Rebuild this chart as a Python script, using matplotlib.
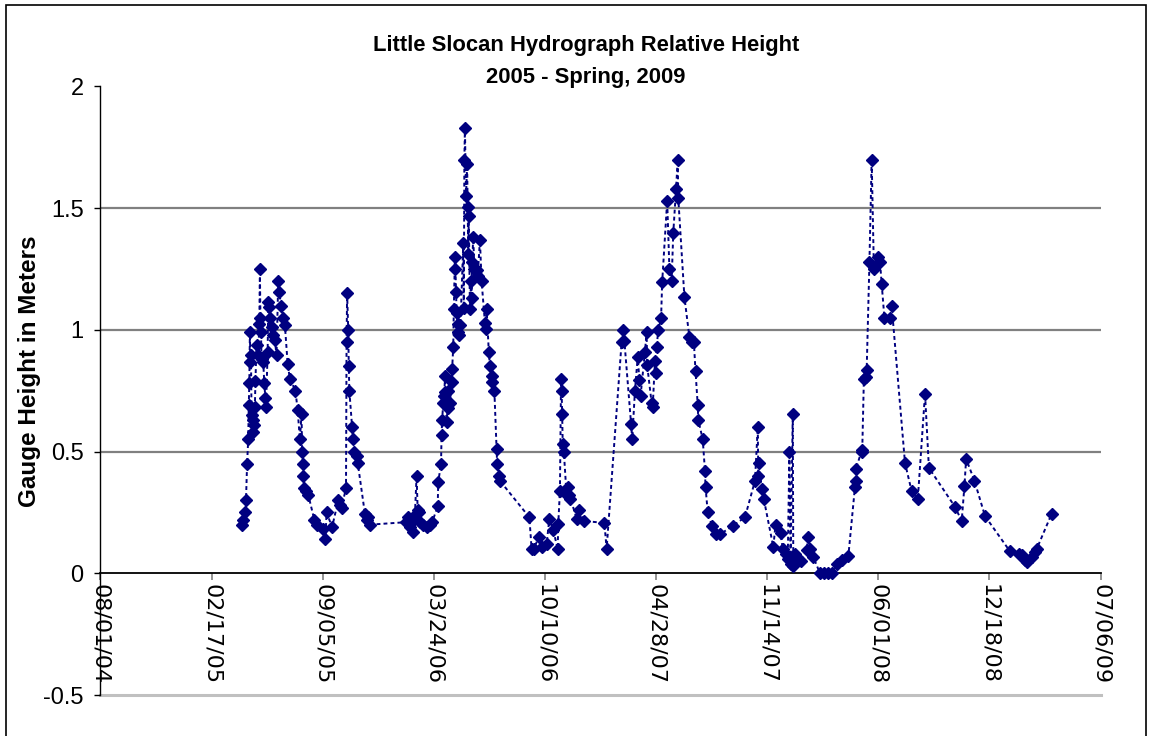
import matplotlib
matplotlib.use("Agg")
import matplotlib.pyplot as plt
import matplotlib.dates as mdates
from matplotlib.ticker import FixedLocator, FixedFormatter
from matplotlib.patches import Rectangle
from datetime import datetime

# Gauge readings, Little Slocan River (relative stage, metres)
obs_dates = [
    # 2005 freshet
    "2005-04-13", "2005-04-15", "2005-04-18", "2005-04-20", "2005-04-22", "2005-04-24",
    "2005-04-25", "2005-04-26", "2005-04-27", "2005-04-28", "2005-04-29", "2005-04-30",
    "2005-05-02", "2005-05-03", "2005-05-04", "2005-05-06", "2005-05-07", "2005-05-09",
    "2005-05-12", "2005-05-14", "2005-05-15", "2005-05-16", "2005-05-17", "2005-05-18",
    "2005-05-21", "2005-05-23", "2005-05-25", "2005-05-26", "2005-05-29", "2005-05-30",
    "2005-06-01", "2005-06-02", "2005-06-05", "2005-06-08", "2005-06-11", "2005-06-14",
    "2005-06-17", "2005-06-19", "2005-06-22", "2005-06-25", "2005-06-29", "2005-07-04",
    "2005-07-08", "2005-07-18", "2005-07-22", "2005-07-26", "2005-07-29", "2005-07-30",
    "2005-07-31", "2005-08-01", "2005-08-03", "2005-08-06", "2005-08-10", "2005-08-21",
    "2005-08-25", "2005-09-05", "2005-09-10", "2005-09-12", "2005-09-22", "2005-10-03",
    "2005-10-06", "2005-10-09", "2005-10-17", "2005-10-18", "2005-10-19", "2005-10-21",
    "2005-10-22", "2005-10-23", "2005-10-28", "2005-10-30", "2005-11-01", "2005-11-05",
    "2005-11-07", "2005-11-20", "2005-11-23", "2005-11-26", "2005-11-30",
    # 2006
    "2006-02-02", "2006-02-06", "2006-02-09", "2006-02-12", "2006-02-15", "2006-02-18",
    "2006-02-21", "2006-02-23", "2006-02-25", "2006-02-28", "2006-03-05", "2006-03-11",
    "2006-03-17", "2006-03-21", "2006-03-31", "2006-04-01", "2006-04-06", "2006-04-07",
    "2006-04-08", "2006-04-10", "2006-04-12", "2006-04-13", "2006-04-14", "2006-04-16",
    "2006-04-18", "2006-04-19", "2006-04-22", "2006-04-25", "2006-04-26", "2006-04-28",
    "2006-04-29", "2006-05-01", "2006-05-02", "2006-05-03", "2006-05-04", "2006-05-06",
    "2006-05-07", "2006-05-08", "2006-05-11", "2006-05-16", "2006-05-17", "2006-05-18",
    "2006-05-19", "2006-05-21", "2006-05-23", "2006-05-24", "2006-05-25", "2006-05-26",
    "2006-05-28", "2006-05-30", "2006-05-31", "2006-06-01", "2006-06-03", "2006-06-05",
    "2006-06-09", "2006-06-11", "2006-06-15", "2006-06-18", "2006-06-24", "2006-06-26",
    "2006-06-27", "2006-07-01", "2006-07-03", "2006-07-06", "2006-07-07", "2006-07-11",
    "2006-07-15", "2006-07-16", "2006-07-20", "2006-07-21", "2006-09-12", "2006-09-16",
    "2006-09-20", "2006-09-29", "2006-10-04", "2006-10-13", "2006-10-18", "2006-10-25",
    "2006-11-02", "2006-11-03", "2006-11-06", "2006-11-08", "2006-11-09", "2006-11-10",
    "2006-11-11", "2006-11-13", "2006-11-18", "2006-11-21", "2006-11-23", "2006-11-25",
    "2006-12-06", "2006-12-10", "2006-12-19",
    # 2007
    "2007-01-25", "2007-01-29", "2007-02-25", "2007-02-28", "2007-03-02", "2007-03-14",
    "2007-03-16", "2007-03-21", "2007-03-26", "2007-03-29", "2007-03-31", "2007-04-08",
    "2007-04-11", "2007-04-12", "2007-04-20", "2007-04-22", "2007-04-26", "2007-04-27",
    "2007-04-29", "2007-05-02", "2007-05-07", "2007-05-09", "2007-05-18", "2007-05-22",
    "2007-05-26", "2007-05-29", "2007-06-03", "2007-06-06", "2007-06-07", "2007-06-18",
    "2007-06-27", "2007-07-01", "2007-07-05", "2007-07-08", "2007-07-12", "2007-07-13",
    "2007-07-21", "2007-07-25", "2007-07-26", "2007-07-30", "2007-08-07", "2007-08-14",
    "2007-08-21", "2007-09-13", "2007-10-05", "2007-10-23", "2007-10-28", "2007-10-29",
    "2007-10-30", "2007-11-04", "2007-11-08", "2007-11-25", "2007-11-29", "2007-12-08",
    "2007-12-12", "2007-12-18", "2007-12-21", "2007-12-24", "2007-12-26", "2007-12-30",
    "2007-12-31",
    # 2008
    "2008-01-03", "2008-01-08", "2008-01-14", "2008-01-24", "2008-01-27", "2008-01-30",
    "2008-02-05", "2008-02-17", "2008-02-24", "2008-03-02", "2008-03-09", "2008-03-18",
    "2008-03-27", "2008-04-08", "2008-04-20", "2008-04-21", "2008-04-22", "2008-05-02",
    "2008-05-03", "2008-05-06", "2008-05-10", "2008-05-11", "2008-05-16", "2008-05-20",
    "2008-05-24", "2008-06-01", "2008-06-04", "2008-06-07", "2008-06-12", "2008-06-22",
    "2008-06-25", "2008-07-19", "2008-07-31", "2008-08-11", "2008-08-24", "2008-08-31",
    "2008-10-17", "2008-10-29", "2008-11-03", "2008-11-06", "2008-11-21", "2008-12-10",
    # 2009
    "2009-01-24", "2009-02-10", "2009-02-14", "2009-02-20", "2009-02-23", "2009-03-04",
    "2009-03-10", "2009-03-13", "2009-04-09",
]

gauge_m = [
    # 2005 freshet
    0.20, 0.22, 0.25, 0.30, 0.45, 0.55,
    0.69, 0.78, 0.99, 0.87, 0.895, 0.65,
    0.63, 0.58, 0.61, 0.684, 0.79, 0.937,
    0.895, 1.025, 1.25, 1.047, 0.99, 0.88,
    0.87, 0.78, 0.72, 0.684, 0.91, 1.115,
    1.095, 1.047, 1.01, 0.98, 0.957, 0.895,
    1.20, 1.157, 1.10, 1.047, 1.02, 0.86,
    0.80, 0.75, 0.67, 0.55, 0.655, 0.50,
    0.45, 0.40, 0.35, 0.34, 0.323, 0.22,
    0.20, 0.18, 0.14, 0.25, 0.19, 0.30,
    0.28, 0.27, 0.35, 0.95, 1.15, 1.00,
    0.85, 0.75, 0.60, 0.55, 0.50, 0.48,
    0.455, 0.245, 0.22, 0.23, 0.20,
    # 2006
    0.21, 0.23, 0.19, 0.21, 0.17, 0.24,
    0.40, 0.26, 0.25, 0.21, 0.20, 0.19,
    0.20, 0.21, 0.275, 0.375, 0.45, 0.57,
    0.63, 0.70, 0.73, 0.81, 0.745, 0.62,
    0.68, 0.75, 0.70, 0.786, 0.84, 0.93,
    1.085, 1.30, 1.25, 1.155, 1.07, 1.026,
    0.99, 0.98, 1.02, 1.355, 1.09, 1.70,
    1.83, 1.55, 1.68, 1.505, 1.31, 1.47,
    1.085, 1.20, 1.13, 1.28, 1.38, 1.25,
    1.245, 1.22, 1.37, 1.20, 1.03, 1.005,
    1.087, 0.91, 0.85, 0.81, 0.786, 0.75,
    0.51, 0.45, 0.40, 0.38, 0.23, 0.10,
    0.10, 0.15, 0.11, 0.12, 0.225, 0.177,
    0.10, 0.204, 0.34, 0.80, 0.75, 0.655,
    0.53, 0.50, 0.32, 0.355, 0.32, 0.307,
    0.225, 0.26, 0.215,
    # 2007
    0.207, 0.10, 0.95, 1.00, 0.953, 0.615,
    0.55, 0.75, 0.89, 0.793, 0.727, 0.91,
    0.99, 0.855, 0.70, 0.685, 0.873, 0.823,
    0.93, 1.00, 1.047, 1.197, 1.53, 1.25,
    1.20, 1.40, 1.58, 1.70, 1.54, 1.135,
    0.97, 0.95, 0.95, 0.83, 0.69, 0.63,
    0.55, 0.42, 0.355, 0.25, 0.193, 0.163,
    0.16, 0.195, 0.23, 0.38, 0.60, 0.40,
    0.453, 0.348, 0.304, 0.108, 0.20, 0.166,
    0.10, 0.08, 0.06, 0.50, 0.04, 0.653,
    0.03,
    # 2008
    0.08, 0.06, 0.05, 0.095, 0.15, 0.10,
    0.067, 0.0, 0.0, 0.0, 0.0, 0.04,
    0.053, 0.07, 0.355, 0.38, 0.43, 0.505,
    0.50, 0.80, 0.807, 0.834, 1.28, 1.70,
    1.25, 1.30, 1.28, 1.19, 1.047, 1.047,
    1.10, 0.453, 0.337, 0.304, 0.738, 0.433,
    0.273, 0.215, 0.36, 0.47, 0.38, 0.235,
    # 2009
    0.09, 0.08, 0.074, 0.053, 0.047, 0.067,
    0.088, 0.10, 0.245,
]

x_tick_labels = ["08/01/04", "02/17/05", "09/05/05", "03/24/06", "10/10/06",
                 "04/28/07", "11/14/07", "06/01/08", "12/18/08", "07/06/09"]
y_ticks = [-0.5, 0, 0.5, 1, 1.5, 2]
y_tick_labels = ["-0.5", "0", "0.5", "1", "1.5", "2"]

title_line1 = "Little Slocan Hydrograph Relative Height"
title_line2 = "2005 - Spring, 2009"
y_title = "Gauge Height in Meters"

navy = "#000080"
arial = ["Liberation Sans", "DejaVu Sans"]

W, H = 1152, 736
fig = plt.figure(figsize=(W / 100, H / 100), dpi=100)
fig.patch.set_facecolor("white")

left, right, top, bottom = 100.4, 1100.6, 86.5, 695.0
ax = fig.add_axes([left / W, 1 - bottom / H, (right - left) / W, (bottom - top) / H])

x = mdates.date2num([datetime.strptime(d, "%Y-%m-%d") for d in obs_dates])
x_ticks = mdates.date2num([datetime.strptime(t, "%m/%d/%y") for t in x_tick_labels])

# horizontal gridlines
for yv in (0.5, 1.0, 1.5):
    ax.axhline(yv, color="#808080", lw=1.6, zorder=0)
ax.axhline(2.0, color="#ececec", lw=1.2, zorder=0)
ax.axhline(-0.5, color="#c0c0c0", lw=2.2, zorder=0, clip_on=False)

ax.plot(x, gauge_m, color=navy, lw=1.4, ls=(0, (2, 1.6)),
        marker="D", ms=6, mfc=navy, mec=navy, zorder=3)

ax.set_xlim(x_ticks[0], x_ticks[-1])
ax.set_ylim(-0.5, 2.0)

ax.xaxis.set_major_locator(FixedLocator(x_ticks))
ax.xaxis.set_major_formatter(FixedFormatter(x_tick_labels))
ax.yaxis.set_major_locator(FixedLocator(y_ticks))
ax.yaxis.set_major_formatter(FixedFormatter(y_tick_labels))

ax.spines["top"].set_visible(False)
ax.spines["right"].set_visible(False)
ax.spines["bottom"].set_position(("data", 0))
ax.spines["bottom"].set_linewidth(1.3)
ax.spines["left"].set_linewidth(1.0)
ax.spines["left"].set_color("black")

ax.tick_params(axis="x", direction="out", length=5, width=1.2, color="#808080",
               pad=3, labelrotation=270, labelsize=16,
               labelfontfamily="DejaVu Sans")
ax.tick_params(axis="y", direction="out", length=4, width=1.0, pad=8,
               labelsize=17, labelfontfamily="Liberation Sans")
for lbl in ax.get_xticklabels():
    lbl.set_va("top")
    lbl.set_ha("center")

fig.text(586 / W, 1 - 45 / H, title_line1, ha="center", va="center",
         fontsize=15.8, fontweight="bold", family=arial)
fig.text(586 / W, 1 - 77 / H, title_line2, ha="center", va="center",
         fontsize=15.8, fontweight="bold", family=arial)
fig.text(30 / W, 1 - 371 / H, y_title, ha="center", va="center", rotation=90,
         fontsize=17.5, fontweight="bold", family=arial)

# outer chart frame
fig.patches.append(Rectangle((6 / W, -0.01), (1146 - 6) / W, (H - 5) / H + 0.01,
                             transform=fig.transFigure, fill=False,
                             ec="black", lw=1.2))

fig.savefig("out.png", dpi=100, facecolor="white")
